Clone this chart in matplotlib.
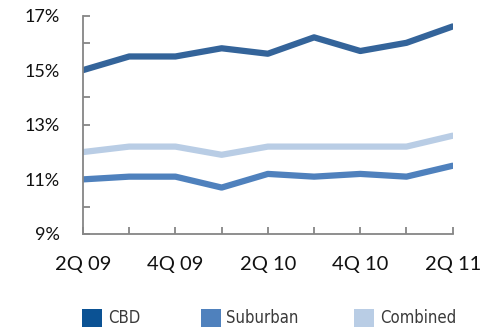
import matplotlib.pyplot as plt
from matplotlib.patches import Rectangle
from matplotlib.ticker import FuncFormatter, MultipleLocator

quarters = ["2Q 09", "3Q 09", "4Q 09", "1Q 10", "2Q 10", "3Q 10", "4Q 10", "1Q 11", "2Q 11"]
cbd = [15.0, 15.5, 15.5, 15.8, 15.6, 16.2, 15.7, 16.0, 16.6]
suburban = [11.0, 11.1, 11.1, 10.7, 11.2, 11.1, 11.2, 11.1, 11.5]
combined = [12.0, 12.2, 12.2, 11.9, 12.2, 12.2, 12.2, 12.2, 12.6]

series = [
    ("CBD", cbd, "#34649a", "#0b5294"),
    ("Suburban", suburban, "#4f81bd", "#4f81bd"),
    ("Combined", combined, "#b9cde5", "#b9cde5"),
]

W, H = 493, 330
fig = plt.figure(figsize=(W / 100, H / 100), dpi=100)
ax = fig.add_axes([83 / W, (H - 234) / H, (452.7 - 83) / W, (234 - 15.5) / H])

x = list(range(len(quarters)))
for name, vals, color, _ in series:
    ax.plot(x, vals, color=color, lw=4.5, solid_capstyle="round", solid_joinstyle="round")

ax.set_xlim(0, len(quarters) - 1)
ax.set_ylim(9, 17)
ax.yaxis.set_major_locator(MultipleLocator(1))
ax.yaxis.set_major_formatter(FuncFormatter(lambda v, _: f"{v:.0f}%" if int(round(v)) % 2 else ""))
ax.set_xticks(x)
ax.set_xticklabels([q if i % 2 == 0 else "" for i, q in enumerate(quarters)])

for side in ("top", "right"):
    ax.spines[side].set_visible(False)
for side in ("left", "bottom"):
    ax.spines[side].set_color("#868686")
    ax.spines[side].set_linewidth(1.3)
ax.tick_params(direction="in", length=5, width=1.3, color="#868686",
               labelcolor="#111111")
ax.tick_params(axis="y", pad=17, labelsize=13)
ax.tick_params(axis="x", pad=16, labelsize=14.5)
for lab in ax.get_xticklabels() + ax.get_yticklabels():
    lab.set_fontfamily("Lato")

# legend row below the axis
legend_pos = [(82, 108), (201, 226), (354, 380)]
for (name, _, _, swatch), (bx, tx) in zip(series, legend_pos):
    fig.add_artist(Rectangle((bx / W, (H - 327) / H), 19.5 / W, 18 / H,
                             transform=fig.transFigure, color=swatch, lw=0))
    fig.text(tx / W, (H - 318) / H, name, fontsize=12, color="#3a3a3a",
             family="DejaVu Sans", fontstretch="condensed", va="center", ha="left")

fig.savefig("out.png", dpi=100)
